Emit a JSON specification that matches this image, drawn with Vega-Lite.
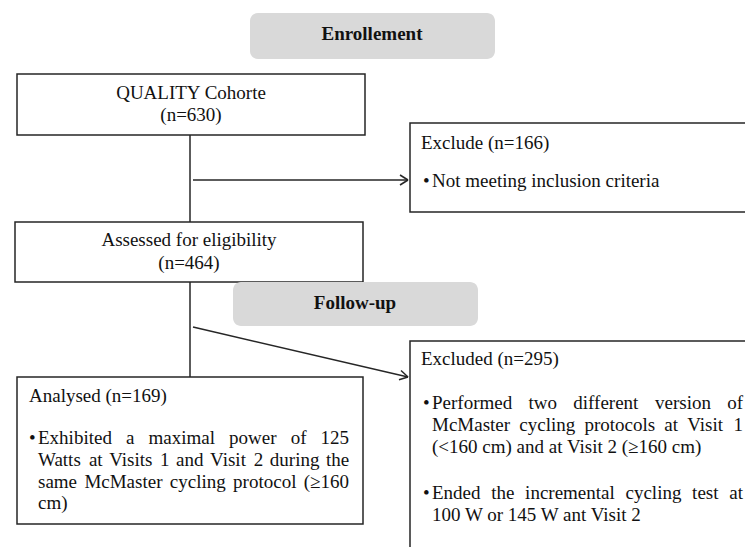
{
  "$schema": "https://vega.github.io/schema/vega-lite/v6.json",
  "width": 745,
  "height": 547,
  "autosize": {"type": "fit", "contains": "padding"},
  "padding": 0,
  "background": "white",
  "config": {"view": {"stroke": null}},
  "datasets": {
    "grey": [
      {"name": "Enrollement", "x": 250, "x2": 495, "y": 13, "y2": 59},
      {"name": "Follow-up", "x": 233, "x2": 478, "y": 282, "y2": 326}
    ],
    "boxes": [
      {"name": "QUALITY", "x": 17, "x2": 365, "y": 74, "y2": 135},
      {"name": "Exclude", "x": 410, "x2": 770, "y": 123, "y2": 212},
      {"name": "Assessed", "x": 15, "x2": 363, "y": 222, "y2": 282},
      {"name": "Analysed", "x": 17, "x2": 363, "y": 377, "y2": 524},
      {"name": "Excluded", "x": 410, "x2": 770, "y": 341, "y2": 570}
    ],
    "segments": [
      {"x": 190, "y": 135, "x2": 190, "y2": 222},
      {"x": 193, "y": 180, "x2": 408, "y2": 180},
      {"x": 400, "y": 175, "x2": 408, "y2": 180},
      {"x": 400, "y": 185, "x2": 408, "y2": 180},
      {"x": 190, "y": 282, "x2": 190, "y2": 377},
      {"x": 193, "y": 327, "x2": 408, "y2": 377},
      {"x": 401, "y": 370.5, "x2": 408, "y2": 377},
      {"x": 399, "y": 379.8, "x2": 408, "y2": 377}
    ],
    "centered": [
      {"text": "QUALITY Cohorte", "x": 191, "y": 93},
      {"text": "(n=630)", "x": 191, "y": 115},
      {"text": "Assessed for eligibility", "x": 189, "y": 240},
      {"text": "(n=464)", "x": 189, "y": 263}
    ],
    "bold": [
      {"text": "Enrollement", "x": 372, "y": 34},
      {"text": "Follow-up", "x": 355, "y": 303}
    ],
    "left": [
      {"text": "Exclude (n=166)", "x": 421, "y": 143},
      {"text": "•", "x": 423, "y": 181},
      {"text": "Not meeting inclusion criteria", "x": 432, "y": 181},
      {"text": "Analysed (n=169)", "x": 29, "y": 396},
      {"text": "•", "x": 29, "y": 438},
      {"text": "Exhibited", "x": 38, "y": 438},
      {"text": "a", "x": 126, "y": 438},
      {"text": "maximal", "x": 148.5, "y": 438},
      {"text": "power", "x": 229, "y": 438},
      {"text": "of", "x": 290.7, "y": 438},
      {"text": "125", "x": 320.6, "y": 438},
      {"text": "Watts", "x": 38, "y": 460},
      {"text": "at", "x": 88.9, "y": 460},
      {"text": "Visits", "x": 109.2, "y": 460},
      {"text": "1", "x": 160.1, "y": 460},
      {"text": "and", "x": 176.1, "y": 460},
      {"text": "Visit", "x": 210.1, "y": 460},
      {"text": "2", "x": 253.7, "y": 460},
      {"text": "during", "x": 269.8, "y": 460},
      {"text": "the", "x": 325.9, "y": 460},
      {"text": "same", "x": 38, "y": 482},
      {"text": "McMaster", "x": 84.4, "y": 482},
      {"text": "cycling", "x": 169.8, "y": 482},
      {"text": "protocol", "x": 233.1, "y": 482},
      {"text": "(≥160", "x": 303.7, "y": 482},
      {"text": "cm)", "x": 38, "y": 503},
      {"text": "Excluded (n=295)", "x": 421, "y": 359},
      {"text": "•", "x": 423, "y": 403},
      {"text": "Performed", "x": 432, "y": 403},
      {"text": "two", "x": 528.5, "y": 403},
      {"text": "different", "x": 573.3, "y": 403},
      {"text": "version", "x": 655, "y": 403},
      {"text": "of", "x": 727.2, "y": 403},
      {"text": "McMaster", "x": 432, "y": 425},
      {"text": "cycling", "x": 519.3, "y": 425},
      {"text": "protocols", "x": 584.4, "y": 425},
      {"text": "at", "x": 664.3, "y": 425},
      {"text": "Visit", "x": 687.2, "y": 425},
      {"text": "1", "x": 733.4, "y": 425},
      {"text": "(<160 cm) and at Visit 2 (≥160 cm)", "x": 432, "y": 447},
      {"text": "•", "x": 423, "y": 493},
      {"text": "Ended", "x": 432, "y": 493},
      {"text": "the", "x": 491.2, "y": 493},
      {"text": "incremental", "x": 525.1, "y": 493},
      {"text": "cycling", "x": 625.5, "y": 493},
      {"text": "test", "x": 692.1, "y": 493},
      {"text": "at", "x": 729.2, "y": 493},
      {"text": "100 W or 145 W ant Visit 2", "x": 432, "y": 515}
    ]
  },
  "layer": [
    {
      "data": {"name": "boxes"},
      "mark": {"type": "rect", "fill": "white", "stroke": "#262626", "strokeWidth": 1.5, "clip": true},
      "encoding": {
        "x": {"field": "x", "type": "quantitative", "scale": {"domain": [0, 745], "nice": false, "zero": false}, "axis": null},
        "x2": {"field": "x2"},
        "y": {"field": "y", "type": "quantitative", "scale": {"domain": [0, 547], "reverse": true, "nice": false, "zero": false}, "axis": null},
        "y2": {"field": "y2"}
      }
    },
    {
      "data": {"name": "segments"},
      "mark": {"type": "rule", "stroke": "#262626", "strokeWidth": 1.5},
      "encoding": {
        "x": {"field": "x", "type": "quantitative"},
        "x2": {"field": "x2"},
        "y": {"field": "y", "type": "quantitative"},
        "y2": {"field": "y2"}
      }
    },
    {
      "data": {"name": "grey"},
      "mark": {"type": "rect", "fill": "#d9d9d9", "cornerRadius": 8},
      "encoding": {
        "x": {"field": "x", "type": "quantitative"},
        "x2": {"field": "x2"},
        "y": {"field": "y", "type": "quantitative"},
        "y2": {"field": "y2"}
      }
    },
    {
      "data": {"name": "centered"},
      "mark": {"type": "text", "font": "Liberation Serif", "fontSize": 19, "align": "center", "baseline": "middle", "color": "#111"},
      "encoding": {
        "x": {"field": "x", "type": "quantitative"},
        "y": {"field": "y", "type": "quantitative"},
        "text": {"field": "text"}
      }
    },
    {
      "data": {"name": "bold"},
      "mark": {"type": "text", "font": "Liberation Serif", "fontSize": 19, "fontWeight": "bold", "align": "center", "baseline": "middle", "color": "#111"},
      "encoding": {
        "x": {"field": "x", "type": "quantitative"},
        "y": {"field": "y", "type": "quantitative"},
        "text": {"field": "text"}
      }
    },
    {
      "data": {"name": "left"},
      "mark": {"type": "text", "font": "Liberation Serif", "fontSize": 19, "align": "left", "baseline": "middle", "color": "#111"},
      "encoding": {
        "x": {"field": "x", "type": "quantitative"},
        "y": {"field": "y", "type": "quantitative"},
        "text": {"field": "text"}
      }
    }
  ]
}
